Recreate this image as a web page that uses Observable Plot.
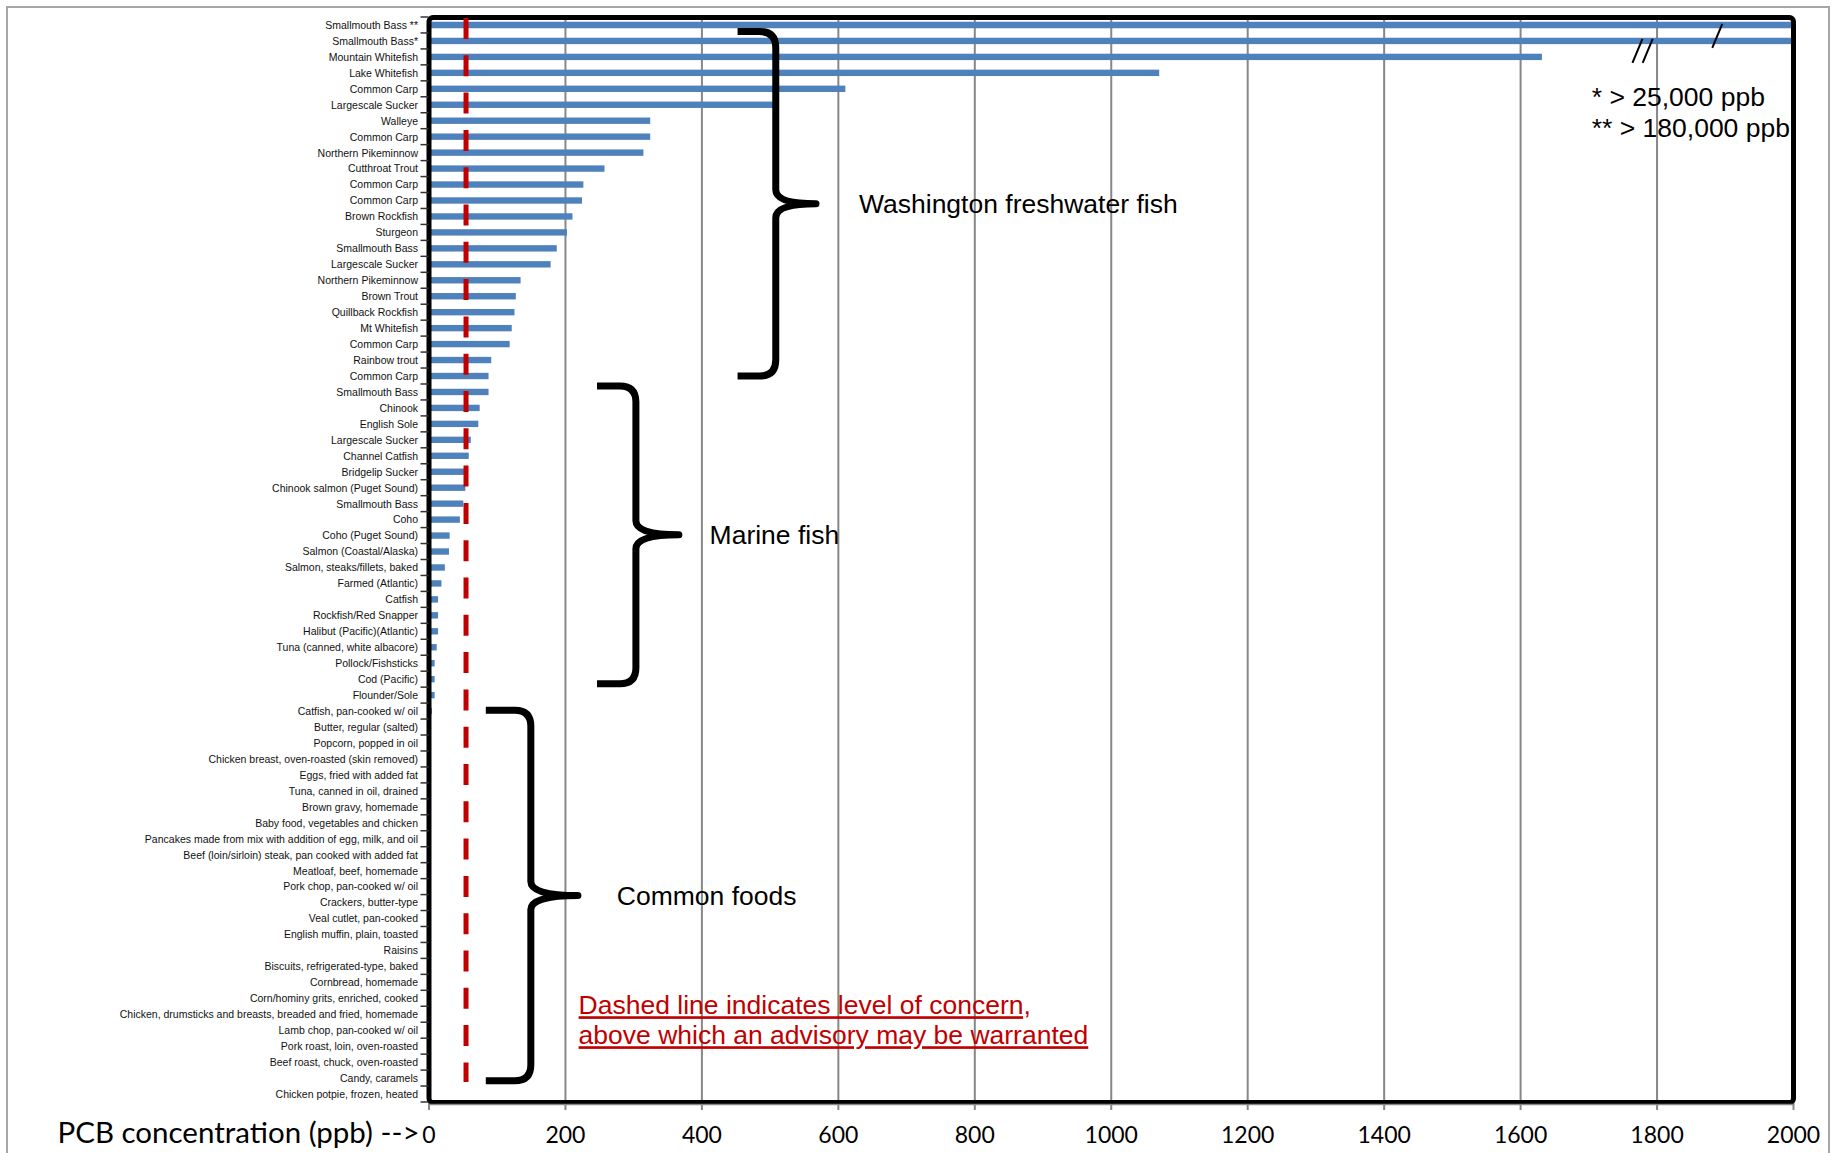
<!DOCTYPE html>
<html>
<head>
<meta charset="utf-8">
<script src="https://cdn.jsdelivr.net/npm/d3@7"></script>
<script src="https://cdn.jsdelivr.net/npm/@observablehq/plot@0.6"></script>
<style>
html, body { margin: 0; padding: 0; background: #fff; overflow: hidden; }
#chart { position: relative; width: 1836px; height: 1153px; }
</style>
</head>
<body>
<div id="chart"></div>
<script>
// ---- data ----
const categories = [
  "Smallmouth Bass **", "Smallmouth Bass*", "Mountain Whitefish", "Lake Whitefish", "Common Carp",
  "Largescale Sucker", "Walleye", "Common Carp", "Northern Pikeminnow", "Cutthroat Trout",
  "Common Carp", "Common Carp", "Brown Rockfish", "Sturgeon", "Smallmouth Bass",
  "Largescale Sucker", "Northern Pikeminnow", "Brown Trout", "Quillback Rockfish", "Mt Whitefish",
  "Common Carp", "Rainbow trout", "Common Carp", "Smallmouth Bass", "Chinook",
  "English Sole", "Largescale Sucker", "Channel Catfish", "Bridgelip Sucker", "Chinook salmon (Puget Sound)",
  "Smallmouth Bass", "Coho", "Coho (Puget Sound)", "Salmon (Coastal/Alaska)", "Salmon, steaks/fillets, baked",
  "Farmed (Atlantic)", "Catfish", "Rockfish/Red Snapper", "Halibut (Pacific)(Atlantic)", "Tuna (canned, white albacore)",
  "Pollock/Fishsticks", "Cod (Pacific)", "Flounder/Sole", "Catfish, pan-cooked w/ oil", "Butter, regular (salted)",
  "Popcorn, popped in oil", "Chicken breast, oven-roasted (skin removed)", "Eggs, fried with added fat", "Tuna, canned in oil, drained", "Brown gravy, homemade",
  "Baby food, vegetables and chicken", "Pancakes made from mix with addition of egg, milk, and oil", "Beef (loin/sirloin) steak, pan cooked with added fat", "Meatloaf, beef, homemade", "Pork chop, pan-cooked w/ oil",
  "Crackers, butter-type", "Veal cutlet, pan-cooked", "English muffin, plain, toasted", "Raisins", "Biscuits, refrigerated-type, baked",
  "Cornbread, homemade", "Corn/hominy grits, enriched, cooked", "Chicken, drumsticks and breasts, breaded and fried, homemade", "Lamb chop, pan-cooked w/ oil", "Pork roast, loin, oven-roasted",
  "Beef roast, chuck, oven-roasted", "Candy, caramels", "Chicken potpie, frozen, heated"
];
const values = [
  180000, 25000, 1632, 1071, 611,
  505, 325, 325, 315, 258,
  227, 225, 211, 203, 188,
  179, 135, 128, 126, 122,
  119, 92, 88, 88, 75,
  73, 62, 59, 54, 54,
  51, 46, 31, 30, 24,
  19, 14, 14, 14, 12,
  9, 9, 9, 5, 3,
  2, 1.5, 1.2, 1, 0.9,
  0.8, 0.7, 0.6, 0.5, 0.5,
  0.4, 0.4, 0.3, 0.3, 0.3,
  0.2, 0.2, 0.2, 0.2, 0.1,
  0.1, 0.1, 0.1
];
const xTicks = [0, 200, 400, 600, 800, 1000, 1200, 1400, 1600, 1800, 2000];
const xMax = 2000;
const concernLevel = 55;
const axisTitle = "PCB concentration (ppb) -->";

// group braces: rows are category positions (fractional), x in ppb units
const groupLabels = ["Washington freshwater fish", "Marine fish", "Common foods"];
const groupTopRow = [0.41, 22.62, 42.95];
const groupBottomRow = [22.0, 41.28, 66.17];
const groupTipX = [453, 247, 84];
const groupSpineX = [509, 304, 150];
const groupPointX = [568, 367, 219];
const groupLabelX = [631, 412, 276];

const footnotes = ["* > 25,000 ppb", "** > 180,000 ppb"];
const footnoteRows = [5.1, 7.04];
const footnoteX = 1705;

const noteLines = ["Dashed line indicates level of concern,", "above which an advisory may be warranted"];
const noteRows = [62.0, 63.88];
const noteX = 220;

// axis-break slashes (x in ppb, row position)
const breakX = [1772, 1787, 1889];
const breakRow = [1.63, 1.63, 0.69];

// ---- chart ----
const W = 1836, H = 1153;
const mL = 428.5, mR = 43, mT = 17, mB = 51;
const idx = d3.range(categories.length);

const chart = Plot.plot({
  width: W,
  height: H,
  marginLeft: mL,
  marginRight: mR,
  marginTop: mT,
  marginBottom: mB,
  style: { fontFamily: "'Liberation Sans', Arial, sans-serif", background: "white", overflow: "visible" },
  x: { domain: [0, xMax] },
  y: { domain: idx, paddingInner: 0.6, paddingOuter: 0.3, align: 0.5 },
  marks: [
    Plot.gridX(xTicks.filter(d => d > 0 && d < xMax), { stroke: "#878787", strokeOpacity: 1, strokeWidth: 2 }),
    Plot.barX(idx, { x: i => values[i], y: i => i, fill: "#4F81BD", clip: true }),
    Plot.axisY({ tickSize: 0, tickPadding: 11, tickFormat: i => categories[i], fontSize: 10.5, fill: "#111", label: null }),
    Plot.axisX(xTicks, { tickSize: 8, tickPadding: 16, stroke: "#888", strokeWidth: 2, fontSize: 23, fontFamily: "Lato", fill: "#000", label: null, tickFormat: d => String(d) }),
    Plot.frame({ stroke: "#000", strokeWidth: 5, rx: 4 })
  ]
});

document.getElementById("chart").appendChild(chart);

// ---- annotations via the chart's scales ----
const sx = chart.scale("x");
const sy = chart.scale("y");
const step = sy.step, bw = sy.bandwidth;
const y0 = sy.apply(0);
const rowY = r => y0 + bw / 2 + r * step;
const X = v => sx.apply(v);

const svg = d3.select(chart);

// outer chart-area border
svg.insert("rect", ":first-child")
  .attr("x", 7).attr("y", 7).attr("width", W - 14).attr("height", H + 40)
  .attr("fill", "none").attr("stroke", "#A6A6A6").attr("stroke-width", 2);

const g = svg.append("g").attr("text-anchor", "start");

// category separator ticks on the y axis
const bandStart = y0 - (step - bw) / 2;
for (let k = 0; k <= categories.length; k++) {
  g.append("line")
    .attr("x1", mL - 8).attr("x2", mL)
    .attr("y1", bandStart + k * step).attr("y2", bandStart + k * step)
    .attr("stroke", "#333").attr("stroke-width", 1.5);
}

// gray axis line under the frame
g.append("line")
  .attr("x1", X(0)).attr("x2", X(xMax))
  .attr("y1", H - mB + 2.5).attr("y2", H - mB + 2.5)
  .attr("stroke", "#888").attr("stroke-width", 1.5);

// dashed level-of-concern line
g.append("line")
  .attr("x1", X(concernLevel)).attr("x2", X(concernLevel))
  .attr("y1", mT + 1).attr("y2", rowY(66.25))
  .attr("stroke", "#C00000").attr("stroke-width", 5)
  .attr("stroke-dasharray", "21,16.3");

// braces + labels
groupLabels.forEach((lab, i) => {
  const xa = X(groupTipX[i]), xs = X(groupSpineX[i]), xp = X(groupPointX[i]);
  const ya = rowY(groupTopRow[i]), yb = rowY(groupBottomRow[i]);
  const ym = (ya + yb) / 2;
  const r = 16, rm = 14;
  const path = `M${xa},${ya} L${xs - r},${ya} Q${xs},${ya} ${xs},${ya + r} L${xs},${ym - rm} Q${xs},${ym} ${xp},${ym} Q${xs},${ym} ${xs},${ym + rm} L${xs},${yb - r} Q${xs},${yb} ${xs - r},${yb} L${xa},${yb}`;
  g.append("path").attr("d", path).attr("fill", "none").attr("stroke", "#000")
    .attr("stroke-width", 7).attr("stroke-linejoin", "round");
  g.append("text")
    .attr("x", X(groupLabelX[i])).attr("y", ym)
    .attr("text-anchor", "start")
    .attr("dominant-baseline", "central")
    .attr("font-family", "'Liberation Sans', Arial, sans-serif")
    .attr("font-size", 26.5).attr("fill", "#000")
    .text(lab);
});

// footnotes
footnotes.forEach((t, i) => {
  g.append("text")
    .attr("x", X(footnoteX)).attr("y", rowY(footnoteRows[i]))
    .attr("text-anchor", "start")
    .attr("font-family", "'Liberation Sans', Arial, sans-serif")
    .attr("font-size", 26.5).attr("fill", "#000")
    .text(t);
});

// note text
noteLines.forEach((t, i) => {
  g.append("text")
    .attr("x", X(noteX)).attr("y", rowY(noteRows[i]))
    .attr("text-anchor", "start")
    .attr("font-family", "'Liberation Sans', Arial, sans-serif")
    .attr("font-size", 26.5).attr("fill", "#C00000")
    .style("text-decoration", "underline")
    .text(t);
});

// axis break slashes
breakX.forEach((bx, i) => {
  const cx = X(bx), cy = rowY(breakRow[i]);
  g.append("line")
    .attr("x1", cx + 5).attr("y1", cy - 12)
    .attr("x2", cx - 5).attr("y2", cy + 12)
    .attr("stroke", "#000").attr("stroke-width", 2);
});

// axis title
g.append("text")
  .attr("x", mL - 9).attr("y", H - mB + 29)
  .attr("text-anchor", "end").attr("dominant-baseline", "central")
  .attr("font-family", "Lato, 'Open Sans', sans-serif")
  .attr("font-size", 29.5).attr("fill", "#000")
  .text(axisTitle);
</script>
</body>
</html>
